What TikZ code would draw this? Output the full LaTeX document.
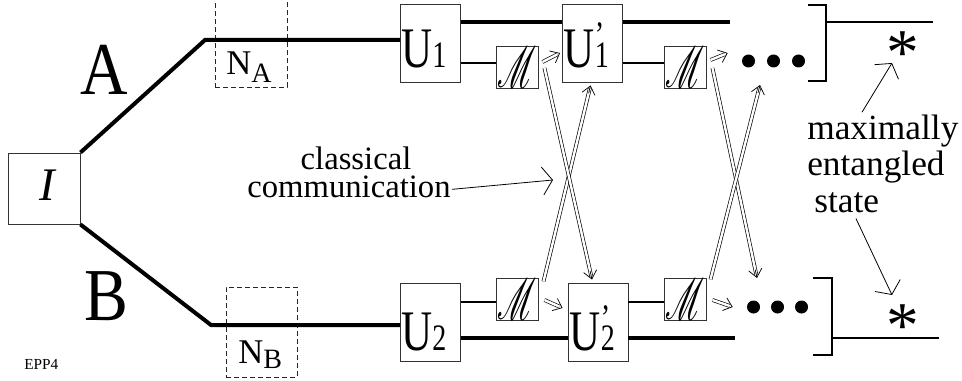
\documentclass[tikz,border=0pt]{standalone}
\usepackage{fontspec}
\setmainfont{Liberation Serif}
\usepackage{mathrsfs}
\usetikzlibrary{arrows.meta,calc}
\newcommand{\Ulab}[1]{\scalebox{0.75}[1]{\fontsize{43}{43}\selectfont U\fontsize{28}{28}\selectfont #1}}
\newcommand{\Uplab}[1]{\scalebox{0.75}[1]{\fontsize{43}{43}\selectfont U\fontsize{28}{28}\selectfont\rlap{\raisebox{15pt}{'}}#1}}
\newcommand{\meas}{\scalebox{0.95}[1.75]{$\mathscr{M}$}}
\newcommand{\dblar}[2]{\draw[dblshaft] (#1) -- (#2); \draw[dbltip] ($(#1)!0.96!(#2)$) -- (#2);}
\tikzset{
  box/.style={draw=black!80, line width=0.7pt, inner sep=0pt},
  ubox/.style={box, minimum width=60*0.75pt, minimum height=78*0.75pt},
  mbox/.style={box, minimum width=42*0.75pt, minimum height=42*0.75pt, font=\fontsize{24.88}{25}\selectfont},
  nbox/.style={draw=black!85, line width=0.6pt, dash pattern=on 3.5pt off 2.5pt, inner sep=0pt},
  heavy/.style={line width=3pt},
  heavyb/.style={line width=2.4pt},
  thinline/.style={line width=0.8pt},
  dblshaft/.style={double, line width=0.5pt, double distance=1.8pt, shorten >=2.4pt},
  dbltip/.style={line width=0.55pt, -{Straight Barb[length=6pt,width=10pt,line width=0.55pt]}},
  barb/.style={line width=0.6pt, -{Straight Barb[length=7.5pt,width=21pt,line width=0.6pt]}},
  labc/.style={font=\fontsize{24.5}{26}\selectfont, inner sep=0pt},
  labm/.style={font=\fontsize{26.5}{27}\selectfont, inner sep=0pt},
  big/.style={font=\fontsize{56}{56}\selectfont, inner sep=0pt},
  dot/.style={circle, fill=black, inner sep=0pt, minimum size=13*0.75pt},
  ast/.style={font=\fontsize{49}{49}\selectfont, inner sep=0pt},
  utext/.style={inner sep=0pt, anchor=base west},
}
\begin{document}
\begin{tikzpicture}[x=0.75pt,y=-0.75pt]
\useasboundingbox (0,0) rectangle (962,381);
% boxes
\node[box, minimum width=72*0.75pt, minimum height=71*0.75pt] (I) at (44,188.5) {};
\node[inner sep=0pt, anchor=base, font=\fontsize{35}{35}\selectfont\itshape] (It) at (47,200) {I};
\node[ubox] (U1) at (430.5,43) {};
\node[ubox] (U1p) at (592.5,43) {};
\node[ubox] (U2) at (430.5,322) {};
\node[ubox] (U2p) at (598,322) {};
\node[utext] (U1t) at (401,68) {\Ulab{1}};
\node[utext] (U1pt) at (563.5,68) {\Uplab{1}};
\node[utext] (U2t) at (401,350) {\Ulab{2}};
\node[utext] (U2pt) at (569.5,350) {\Uplab{2}};
\node[mbox] (m1) at (517,67) {\meas};
\node[mbox] (m2) at (685,67) {\meas};
\node[mbox] (m3) at (517,299) {\meas};
\node[mbox] (m4) at (685,299) {\meas};
\node[nbox, minimum width=72*0.75pt, minimum height=90*0.75pt] (NA) at (251,42) {};
\node[nbox, minimum width=71*0.75pt, minimum height=90*0.75pt] (NB) at (261.5,332) {};
\node[utext, font=\fontsize{26}{26}\selectfont] (NAt) at (226,75) {N{\fontsize{21}{21}\selectfont\raisebox{-6pt}{A}}};
\node[utext, font=\fontsize{26}{26}\selectfont] (NBt) at (238,363) {N{\fontsize{21}{21}\selectfont\raisebox{-4pt}{B}}};
% labels
\node[big, anchor=base] (Al) at (104,95) {\scalebox{0.88}[1]{A}};
\node[big, anchor=base] (Bl) at (106,320) {\scalebox{0.88}[1]{B}};
\node[labc, anchor=base] (cl1) at (356,169) {classical};
\node[labc, anchor=base] (cl2) at (349,197) {communication};
\node[labm, anchor=base west] (mx1) at (807,139) {maximally};
\node[labm, anchor=base west] (mx2) at (807,175) {entangled};
\node[labm, anchor=base west] (mx3) at (814,212) {state};
\node[inner sep=0pt, anchor=base west, font=\fontsize{11.5}{12}\selectfont] (epp) at (24,369) {EPP4};
% quantum channels
\coordinate (kA) at (205,40);
\coordinate (kB) at (211,325);
\draw[heavy] (I.north east) -- (kA) -- (kA -| U1.west);
\draw[heavy] (I.south east) -- (kB) -- (kB -| U2.west);
\coordinate (r1) at (0,22);
\coordinate (r2) at (0,63);
\coordinate (r3) at (0,302);
\coordinate (r4) at (0,338);
\coordinate (e1) at (730,22);
\coordinate (e2) at (735,338);
\draw[heavyb] (U1.east |- r1) -- (U1p.west |- r1);
\draw[heavyb] (U1p.east |- r1) -- (e1);
\draw[heavyb] (U2.east |- r4) -- (U2p.west |- r4);
\draw[heavyb] (U2p.east |- r4) -- (e2);
\draw[thinline] (U1.east |- r2) -- (m1.west |- r2);
\draw[thinline] (U1p.east |- r2) -- (m2.west |- r2);
\draw[thinline] (U2.east |- r3) -- (m3.west |- r3);
\draw[thinline] (U2p.east |- r3) -- (m4.west |- r3);
% dots
\node[dot] (d1) at (748.5,61) {};
\node[dot] (d2) at (773.5,61) {};
\node[dot] (d3) at (798.5,61) {};
\node[dot] (d4) at (753.5,307) {};
\node[dot] (d5) at (777.5,307) {};
\node[dot] (d6) at (801.5,307) {};
% classical communication arrows
\coordinate (x1s) at ($(m1.east)+(4,-5)$);
\coordinate (x1e) at ($(U1p.west)+(-2,10)$);
\coordinate (x2s) at ($(m2.east)+(4,-7)$);
\coordinate (x2e) at ($(d1.west)+(-14,-8)$);
\coordinate (x3s) at ($(m3.east)+(6,1)$);
\coordinate (x3e) at ($(U2p.west)+(-5,-14)$);
\coordinate (x4s) at ($(m4.east)+(6,1)$);
\coordinate (x4e) at ($(d4.west)+(-14,0)$);
\coordinate (y1s) at ($(m3.north east)+(5,4)$);
\coordinate (y1e) at ($(U1p.south)+(-2,3)$);
\coordinate (y2s) at ($(m1.east)+(6,1)$);
\coordinate (y2e) at ($(U2p.north)+(-6,-3)$);
\coordinate (y3s) at ($(m2.east)+(6,1)$);
\coordinate (y3e) at (757,278);
\coordinate (y4s) at ($(m4.north east)+(4,2)$);
\coordinate (y4e) at (760,85);
\dblar{x1s}{x1e}
\dblar{x2s}{x2e}
\dblar{x3s}{x3e}
\dblar{x4s}{x4e}
\dblar{y1s}{y1e}
\dblar{y2s}{y2e}
\dblar{y3s}{y3e}
\dblar{y4s}{y4e}
% brackets and outputs
\coordinate (b1a) at (808,5);
\coordinate (b1b) at (826,5);
\coordinate (b1c) at (826,81);
\coordinate (b1d) at (808,81);
\coordinate (o1a) at (826,22);
\coordinate (o1b) at (933,22);
\draw[thinline] (b1a) -- (b1b) -- (b1c) -- (b1d);
\draw[thinline] (o1a) -- (o1b);
\coordinate (b2a) at (813,278);
\coordinate (b2b) at (832,278);
\coordinate (b2c) at (832,355);
\coordinate (b2d) at (813,355);
\coordinate (o2a) at (832,338);
\coordinate (o2b) at (939,338);
\draw[thinline] (b2a) -- (b2b) -- (b2c) -- (b2d);
\draw[thinline] (o2a) -- (o2b);
\node[ast, anchor=base] (s1) at (903,75) {*};
\node[ast, anchor=base] (s2) at (903,347) {*};
% pointer arrows
\coordinate (t1) at (553,180);
\coordinate (t2) at (892,63);
\coordinate (t3) at (892,295);
\draw[barb] ($(cl2.east)+(1,3)$) -- (t1);
\draw[barb] ($(mx1.north west)+(55,-2)$) -- (t2);
\draw[barb] ($(mx3.south west)+(42,6)$) -- (t3);
\end{tikzpicture}
\end{document}
